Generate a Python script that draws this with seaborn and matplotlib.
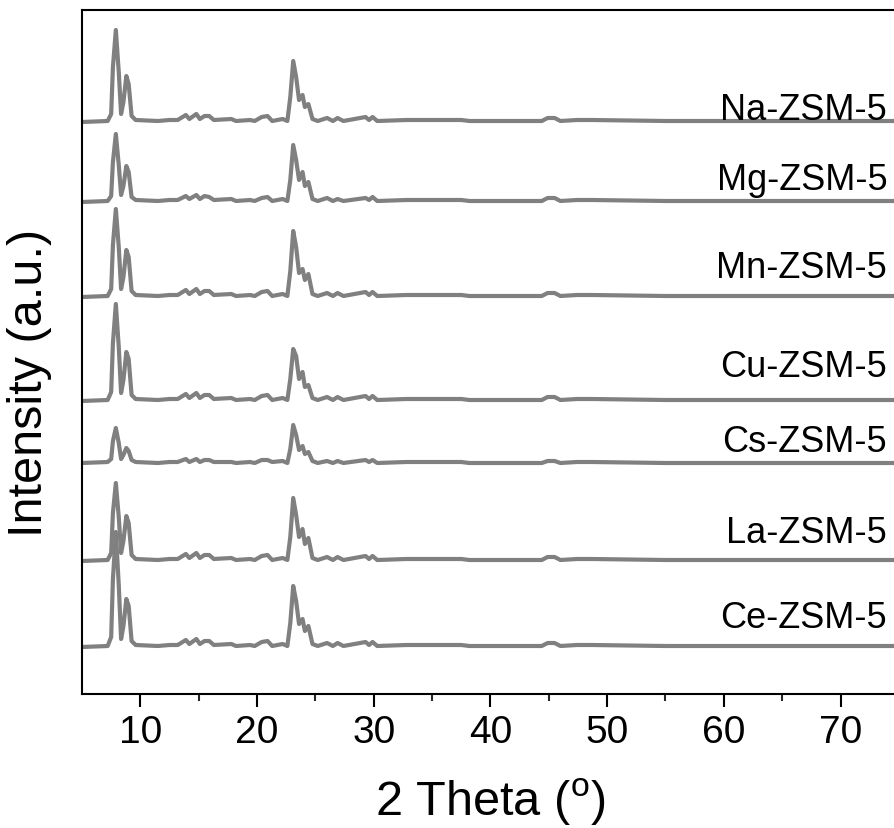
import pandas as pd
import numpy as np
import matplotlib
matplotlib.use("Agg")
import matplotlib.pyplot as plt
import seaborn as sns

# 2-theta positions shared by all patterns
theta = [5.0, 7.2, 7.5, 7.65, 7.9, 8.15, 8.35, 8.55, 8.8, 9.0,
         9.25, 9.6, 11.5, 12.5, 13.2, 13.9, 14.2, 14.8, 15.1, 15.5,
         15.9, 16.3, 17.8, 18.2, 19.4, 19.8, 20.4, 20.9, 21.3, 22.2,
         22.6, 22.85, 23.1, 23.35, 23.6, 23.9, 24.1, 24.4, 24.75, 25.2,
         26.0, 26.5, 26.9, 27.4, 29.3, 29.6, 29.9, 30.3, 32.8, 34.5,
         36.1, 37.5, 38.2, 44.4, 44.9, 45.5, 46.0, 47.4, 48.7, 55.0, 74.7]

na = [0, 1, 8, 55, 92, 50, 8, 20, 46, 38, 6, 2, 1, 2, 2, 7, 3, 8, 3, 6,
      6, 2, 3, 1, 2, 1, 5, 6, 1, 3, 1, 25, 61, 45, 22, 27, 15, 18, 3, 1,
      4, 1, 4, 1, 5, 2, 5, 1, 2, 2, 2, 2, 1, 1, 4, 4, 1, 2, 2, 1, 1]
mg = [0, 1, 6, 40, 68, 37, 7, 16, 36, 30, 5, 2, 1, 2, 2, 6, 3, 7, 3, 6,
      5, 2, 3, 1, 2, 1, 4, 5, 1, 3, 1, 22, 57, 42, 22, 30, 16, 20, 3, 1,
      4, 1, 3, 1, 4, 2, 5, 1, 2, 2, 2, 2, 1, 1, 4, 4, 1, 2, 2, 1, 1]
mn = [0, 1, 8, 52, 88, 50, 8, 20, 47, 40, 6, 2, 1, 2, 2, 7, 3, 8, 3, 6,
      6, 2, 3, 1, 2, 1, 5, 6, 1, 3, 1, 26, 66, 50, 24, 28, 17, 23, 3, 1,
      4, 1, 4, 1, 5, 2, 5, 1, 2, 2, 2, 2, 1, 1, 4, 4, 1, 2, 2, 1, 1]
cu = [0, 1, 9, 58, 97, 54, 8, 21, 49, 42, 6, 2, 1, 2, 2, 7, 3, 8, 3, 6,
      6, 2, 3, 1, 2, 1, 5, 6, 1, 3, 1, 22, 52, 45, 22, 29, 14, 16, 3, 1,
      4, 1, 4, 1, 5, 2, 5, 1, 2, 2, 2, 2, 1, 1, 4, 4, 1, 2, 2, 1, 1]
cs = [0, 1, 4, 22, 35, 20, 4, 8, 15, 12, 3, 1, 0, 1, 1, 4, 1, 4, 1, 3,
      3, 1, 1, 0, 1, 0, 3, 3, 1, 2, 0, 14, 38, 28, 13, 17, 9, 11, 2, 0,
      2, 0, 2, 0, 3, 1, 3, 0, 1, 1, 1, 1, 0, 0, 2, 2, 0, 1, 1, 0, 0]
la = [0, 1, 8, 48, 78, 44, 8, 20, 45, 38, 6, 2, 1, 2, 2, 7, 3, 8, 3, 6,
      6, 2, 3, 1, 2, 1, 5, 6, 1, 3, 1, 24, 63, 46, 24, 32, 17, 23, 3, 1,
      4, 1, 4, 1, 5, 2, 5, 1, 2, 2, 2, 2, 1, 1, 4, 4, 1, 2, 2, 1, 1]
ce = [0, 1, 10, 68, 115, 62, 8, 21, 48, 41, 6, 2, 1, 2, 2, 7, 3, 8, 3, 6,
      6, 2, 3, 1, 2, 1, 5, 6, 1, 3, 1, 24, 61, 46, 23, 28, 16, 21, 3, 1,
      4, 1, 4, 1, 5, 2, 5, 1, 2, 2, 2, 2, 1, 1, 4, 4, 1, 2, 2, 1, 1]

samples = ['Na-ZSM-5', 'Mg-ZSM-5', 'Mn-ZSM-5', 'Cu-ZSM-5', 'Cs-ZSM-5', 'La-ZSM-5', 'Ce-ZSM-5']
patterns = [na, mg, mn, cu, cs, la, ce]
offsets = [572, 492, 397, 293, 231, 133, 47]
label_y = [575, 505, 417, 318, 243, 152, 67]

rows = []
for name, pat, off in zip(samples, patterns, offsets):
    for t, v in zip(theta, pat):
        rows.append({'theta': t, 'intensity': v + off, 'sample': name})
df = pd.DataFrame(rows)

sns.set_theme(style="white")
plt.rcParams['font.family'] = ['Liberation Sans', 'DejaVu Sans']
plt.rcParams['mathtext.fontset'] = 'custom'
plt.rcParams['mathtext.rm'] = 'Liberation Sans'
plt.rcParams['text.color'] = 'black'

fig = plt.figure(figsize=(8.95, 8.29), dpi=100)
ax = fig.add_axes([82/895, 1 - 695/829, 1 - 82/895, (695 - 11)/829])

sns.lineplot(data=df, x='theta', y='intensity', hue='sample', units='sample',
             estimator=None, sort=False, palette=['#808080'] * 7,
             legend=False, lw=3.0, ax=ax)

for name, ly in zip(samples, label_y):
    ax.text(74.0, ly, name, ha='right', va='baseline', fontsize=26, color='black')

ax.set_xlim(5, 74.67)
ax.set_ylim(0, 684)
ax.set_xticks([10, 20, 30, 40, 50, 60, 70])
ax.set_xticks([15, 25, 35, 45, 55, 65], minor=True)
ax.set_yticks([])
ax.tick_params(axis='x', which='major', direction='out', length=9.5, width=1.5,
               labelsize=28, pad=5, bottom=True, colors='black')
ax.tick_params(axis='x', which='minor', direction='out', length=5, width=1.5, bottom=True)
ax.set_xlabel('')
ax.set_ylabel('')
for s in ['left', 'bottom', 'top']:
    ax.spines[s].set_linewidth(1.5)
    ax.spines[s].set_color('black')
ax.spines['right'].set_visible(False)

fig.text(490/895, 1 - 802/829, r'2 Theta ($^{\mathrm{o}}$)', ha='center', va='center',
         fontsize=35, color='black')
fig.text(30/895, 1 - 383/829, 'Intensity (a.u.)', ha='center', va='center', rotation=90,
         fontsize=35, color='black')

fig.savefig('out.png', dpi=100, facecolor='white')
